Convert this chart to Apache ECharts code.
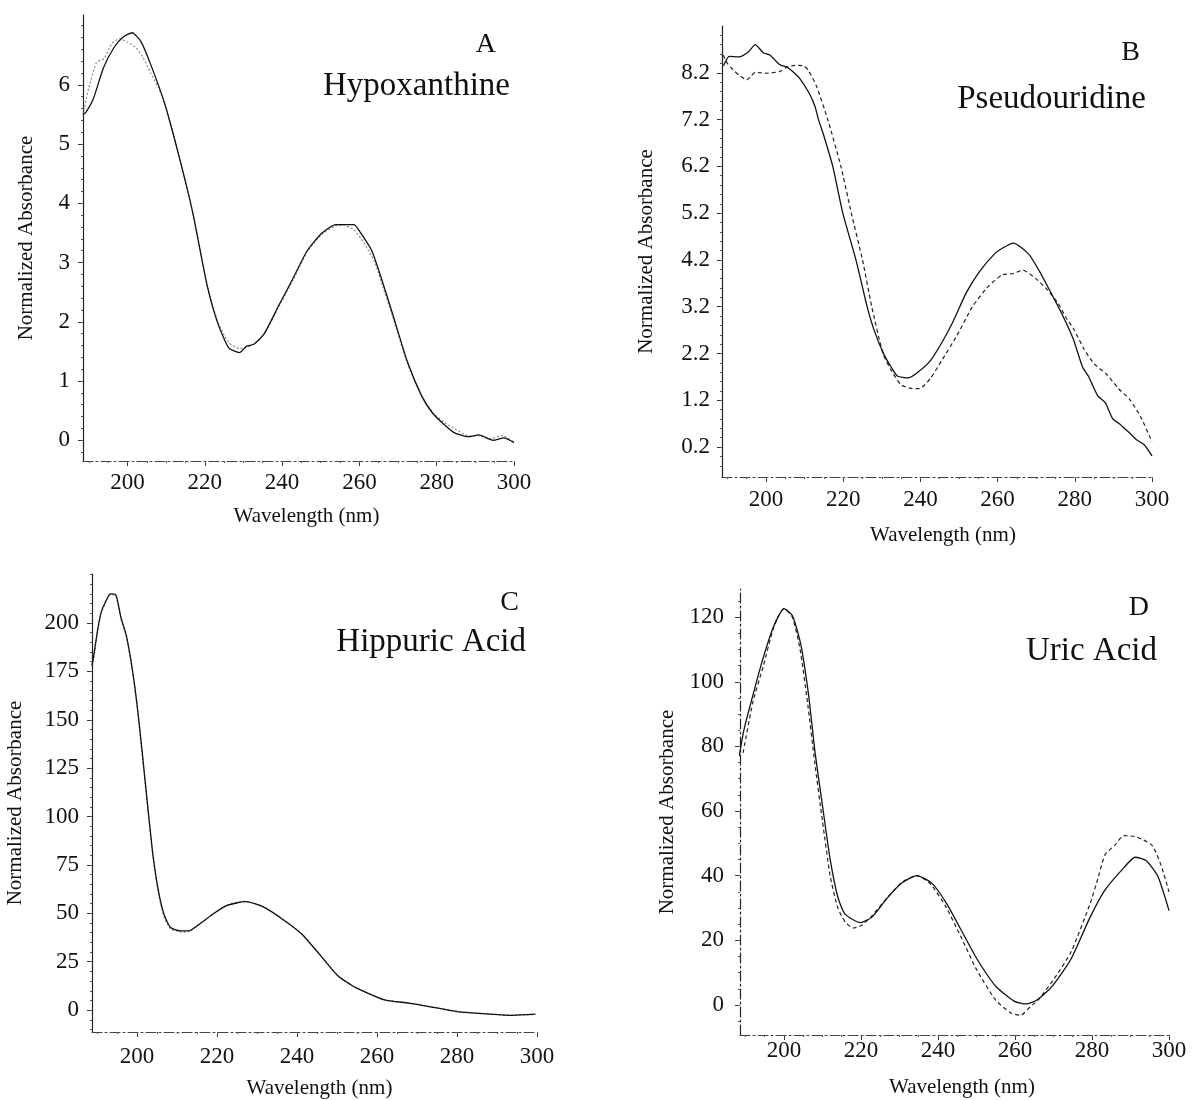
<!DOCTYPE html>
<html>
<head>
<meta charset="utf-8">
<script src="https://cdn.jsdelivr.net/npm/echarts@6/dist/echarts.min.js"></script>
<style>
  html, body { margin: 0; padding: 0; background: #fff; }
  #chart { width: 1193px; height: 1100px; }
</style>
</head>
<body>
<div id="chart"></div>
<script>
// A - Hypoxanthine
const hypoWlSolid = [188.5, 189.2, 191.2, 193.8, 196.6, 198.9, 201.2, 203.5, 205.8, 209.5, 213.2, 216.9, 220.6, 223.4, 226.2, 229.0, 230.8, 232.7, 235.4, 239.1, 242.8, 246.5, 250.2, 253.9, 258.6, 259.5, 263.2, 266.0, 268.8, 272.4, 276.1, 278.9, 281.7, 284.5, 288.2, 290.9, 294.6, 297.4, 300];
const hypoAbsSolid = [5.5, 5.53, 5.77, 6.29, 6.64, 6.81, 6.88, 6.73, 6.38, 5.71, 4.83, 3.84, 2.62, 1.97, 1.56, 1.48, 1.59, 1.62, 1.80, 2.27, 2.73, 3.20, 3.49, 3.64, 3.64, 3.58, 3.20, 2.67, 2.09, 1.33, 0.75, 0.46, 0.28, 0.13, 0.06, 0.09, 0.0, 0.04, -0.04];
const hypoWlDash = [188.5, 190, 192, 194, 196, 198, 200, 202, 204, 206, 208, 209.5, 213.2, 216.9, 220.6, 223.4, 226.2, 229, 231, 233, 235.4, 239.1, 242.8, 246.5, 250.2, 253.9, 256, 258.6, 261, 264, 266, 268.8, 272.4, 276.1, 279, 282, 285, 288, 291, 294, 297, 300];
const hypoAbsDash = [5.5, 5.95, 6.38, 6.45, 6.7, 6.78, 6.72, 6.64, 6.47, 6.2, 5.95, 5.72, 4.83, 3.84, 2.62, 2.0, 1.65, 1.55, 1.57, 1.64, 1.8, 2.25, 2.7, 3.18, 3.47, 3.62, 3.63, 3.55, 3.35, 3.0, 2.6, 2.05, 1.3, 0.75, 0.47, 0.3, 0.18, 0.08, 0.07, 0.03, 0.08, -0.03];

// B - Pseudouridine
const pseuWlSolid = [189.0, 190.5, 193.0, 195.5, 197.2, 199.3, 201.0, 203.6, 205.4, 207.0, 209.0, 211.4, 212.7, 213.6, 215.0, 217.3, 219.9, 223.3, 226.2, 228.0, 230.6, 232.5, 234.0, 236.9, 239.8, 242.7, 245.6, 248.5, 251.9, 255.3, 259.2, 261.2, 264.1, 268.0, 270.9, 273.8, 276.7, 279.6, 282.0, 283.5, 285.9, 287.9, 289.8, 291.7, 294.2, 296.1, 298.1, 300];
const pseuAbsSolid = [8.35, 8.55, 8.54, 8.65, 8.8, 8.63, 8.58, 8.37, 8.32, 8.22, 8.05, 7.73, 7.48, 7.2, 6.85, 6.2, 5.2, 4.2, 3.2, 2.7, 2.17, 1.9, 1.72, 1.68, 1.83, 2.06, 2.44, 2.89, 3.5, 3.95, 4.33, 4.45, 4.56, 4.33, 3.95, 3.5, 3.04, 2.51, 1.91, 1.72, 1.3, 1.15, 0.81, 0.69, 0.5, 0.35, 0.24, 0.01];
const pseuWlDash = [188.9, 190.0, 191.5, 193.0, 195.0, 196.0, 197.2, 200.2, 203.6, 205.4, 207.5, 209.7, 210.9, 213.1, 216.0, 219.4, 222.1, 225.0, 227.4, 230.3, 232.5, 235.0, 237.9, 239.8, 242.7, 245.6, 249.5, 253.4, 257.3, 261.2, 264.1, 266.5, 269.9, 272.8, 275.7, 277.7, 279.6, 282.5, 285.0, 288.3, 291.3, 294.2, 297.1, 300];
const pseuAbsDash = [8.58, 8.4, 8.26, 8.15, 8.05, 8.12, 8.21, 8.19, 8.23, 8.32, 8.36, 8.35, 8.26, 7.91, 7.2, 6.2, 5.2, 4.2, 3.2, 2.2, 1.83, 1.53, 1.45, 1.45, 1.68, 2.06, 2.59, 3.19, 3.61, 3.88, 3.91, 3.98, 3.8, 3.57, 3.27, 2.97, 2.74, 2.28, 1.98, 1.75, 1.45, 1.22, 0.84, 0.31];

// C - Hippuric Acid
const hippWl = [188.75, 189.1, 190.2, 191.1, 192.4, 193.3, 194.7, 196.0, 197.3, 198.7, 200.0, 201.3, 202.7, 204.0, 205.3, 206.7, 208.4, 211.1, 212.9, 215.6, 219.1, 222.7, 227.1, 231.6, 236.9, 241.3, 245.8, 250.2, 254.7, 261.8, 268.0, 274.2, 280.4, 286.7, 293.8, 299.6];
const hippAbsSolid = [178, 182, 197, 206, 212, 215, 214.6, 202.7, 193.8, 177.8, 158.2, 133.3, 104.9, 80, 62.2, 49.8, 42.7, 40.9, 40.9, 44.4, 49.8, 54.2, 56, 53.3, 46.2, 39.1, 28.4, 17.8, 11.6, 5.3, 3.6, 1.4, -0.9, -1.8, -2.7, -2.1];
const hippAbsDash = [178, 181, 196, 205, 212, 214.5, 214, 202, 193, 177, 157, 132, 104, 79, 61, 48.5, 42, 40.3, 40.5, 44.4, 49.8, 54.5, 56.3, 53.5, 46.4, 39.1, 28.6, 18, 11.6, 5.5, 3.6, 1.5, -0.8, -1.8, -2.6, -2.3];

// D - Uric Acid
const uricWlSolid = [188.4, 189.5, 190.7, 194.2, 197.4, 200.0, 202.2, 204.4, 206.4, 208.1, 210.1, 212.0, 214.0, 215.9, 219.8, 222.8, 226.7, 230.6, 234.5, 238.4, 242.3, 246.2, 250.1, 255.0, 259.9, 262.9, 265.8, 269.7, 274.6, 279.5, 283.4, 288.3, 291.2, 294.1, 297.1, 300];
const uricAbsSolid = [77, 84.4, 90.2, 105.7, 117.3, 122.6, 120.5, 111.5, 96, 78, 61, 45.1, 33.4, 28.1, 25.5, 27.1, 32.9, 37.7, 40, 37.7, 31.3, 22.8, 14.3, 5.8, 1.1, 0.3, 1.6, 5.8, 14.3, 27.1, 35.6, 42.5, 45.7, 44.6, 39.8, 29.2];
const uricWlDash = [189.4, 192, 194.6, 197.4, 200, 202.2, 204.2, 206.2, 208, 210, 212, 214, 216, 218, 220, 222.8, 226.7, 230.6, 234.5, 238, 242, 246, 250, 255, 259, 261.5, 264, 266, 270.7, 274.6, 279.5, 281.5, 283.4, 286, 288.3, 291.5, 295.6, 298, 300];
const uricAbsDash = [78, 94, 104.6, 117, 122.6, 120, 110, 93, 75, 57, 40, 30, 25.5, 23.8, 24.5, 27.5, 33, 37.9, 40, 37.5, 30.5, 21, 11, 1.5, -2.5, -3.2, -0.5, 1.5, 9, 16.5, 31.3, 39, 46.5, 49.5, 52.4, 52, 49.4, 43, 35];

// tick labels
const wlTicks = [200, 220, 240, 260, 280, 300];
const hypoTicks = [0, 1, 2, 3, 4, 5, 6];
const pseuTicks = [0.2, 1.2, 2.2, 3.2, 4.2, 5.2, 6.2, 7.2, 8.2];
const hippTicks = [0, 25, 50, 75, 100, 125, 150, 175, 200];
const uricTicks = [0, 20, 40, 60, 80, 100, 120];

const panelNames = ['Hypoxanthine', 'Pseudouridine', 'Hippuric Acid', 'Uric Acid'];
const panelLetters = ['A', 'B', 'C', 'D'];

const FONT = 'Liberation Serif';
const INK = '#111';

function pairs(xs, ys) {
  return xs.map(function (x, i) { return [x, ys[i]]; });
}

function steps(from, to, step) {
  const out = [];
  for (let v = from; v <= to + 1e-9; v += step) out.push(+v.toFixed(3));
  return out;
}

// panel layout in px: grid box, axis ranges, label spacing
const panels = [
  { left: 83, top: 15, width: 431, height: 446, xmin: 188.5, ymin: -0.35, ymax: 7.18,
    yTicks: hypoTicks, yMinor: steps(-0.2, 7.0, 0.2), dec: 0,
    xMargin: 10, xGap: 45, xShift: 16, yMargin: 13, yGap: 46, yDash: 'solid' },
  { left: 722, top: 26, width: 430, height: 451, xmin: 188.6, ymin: -0.44, ymax: 9.2,
    yTicks: pseuTicks, yMinor: steps(-0.2, 9.0, 0.2), dec: 1,
    xMargin: 11, xGap: 48, xShift: 12, yMargin: 12, yGap: 65, yDash: 'solid' },
  { left: 92, top: 574, width: 445, height: 459, xmin: 188.75, ymin: -11.3, ymax: 225.3,
    yTicks: hippTicks, yMinor: steps(-10, 225, 5), dec: 0,
    xMargin: 13, xGap: 46, xShift: 10, yMargin: 13, yGap: 66, yDash: 'solid' },
  { left: 740, top: 589, width: 429, height: 446, xmin: 188.6, ymin: -9.3, ymax: 128.7,
    yTicks: uricTicks, yMinor: steps(-5, 125, 5), dec: 0,
    xMargin: 4, xGap: 42, xShift: 15, yMargin: 16, yGap: 62, yDash: [10, 3, 2, 3] }
];

const xMinor = steps(190, 300, 5);

const grids = [], xAxes = [], yAxes = [];
panels.forEach(function (p, i) {
  grids.push({ left: p.left, top: p.top, width: p.width, height: p.height, containLabel: false });
  // main x axis
  xAxes.push({
    gridIndex: i, type: 'value', position: 'bottom', min: p.xmin, max: 300,
    name: 'Wavelength (nm)', nameLocation: 'middle', nameGap: p.xGap,
    nameTextStyle: { fontFamily: FONT, fontSize: 21, color: INK, padding: [0, 0, 0, p.xShift] },
    axisLine: { show: true, onZero: false, lineStyle: { color: '#444', width: 1.2, type: [10, 3, 2, 3] } },
    axisTick: { show: true, inside: false, length: 5, customValues: wlTicks, lineStyle: { color: '#333' } },
    axisLabel: { customValues: wlTicks, margin: p.xMargin, fontFamily: FONT, fontSize: 23, color: INK },
    splitLine: { show: false }
  });
  // minor ticks on x
  xAxes.push({
    gridIndex: i, type: 'value', position: 'bottom', min: p.xmin, max: 300,
    axisLine: { show: false, onZero: false },
    axisTick: { show: true, length: 2, customValues: xMinor, lineStyle: { color: '#555' } },
    axisLabel: { show: false },
    splitLine: { show: false }
  });
  // main y axis
  yAxes.push({
    gridIndex: i, type: 'value', position: 'left', min: p.ymin, max: p.ymax,
    name: 'Normalized Absorbance', nameLocation: 'middle', nameGap: p.yGap,
    nameTextStyle: { fontFamily: FONT, fontSize: 21, color: INK },
    axisLine: { show: true, onZero: false, lineStyle: { color: '#222', width: 1.2, type: p.yDash } },
    axisTick: { show: true, length: 5, customValues: p.yTicks, lineStyle: { color: '#333' } },
    axisLabel: {
      customValues: p.yTicks, margin: p.yMargin, fontFamily: FONT, fontSize: 23, color: INK,
      formatter: function (v) { return v.toFixed(p.dec); }
    },
    splitLine: { show: false }
  });
  // minor ticks on y
  yAxes.push({
    gridIndex: i, type: 'value', position: 'left', min: p.ymin, max: p.ymax,
    axisLine: { show: false, onZero: false },
    axisTick: { show: true, length: 2, customValues: p.yMinor, lineStyle: { color: '#555' } },
    axisLabel: { show: false },
    splitLine: { show: false }
  });
});

function line(i, data, solid, dashColor, dashType) {
  return {
    type: 'line', xAxisIndex: i * 2, yAxisIndex: i * 2, data: data,
    showSymbol: false, smooth: 0.2, silent: true,
    lineStyle: solid
      ? { color: INK, width: 1.3, type: 'solid' }
      : { color: dashColor, width: 1.2, type: dashType }
  };
}

const series = [
  line(0, pairs(hypoWlDash, hypoAbsDash), false, '#8a8a8a', [2, 2]),
  line(0, pairs(hypoWlSolid, hypoAbsSolid), true),
  line(1, pairs(pseuWlDash, pseuAbsDash), false, '#222', [4, 3]),
  line(1, pairs(pseuWlSolid, pseuAbsSolid), true),
  line(2, pairs(hippWl, hippAbsDash), false, '#888', [2, 2]),
  line(2, pairs(hippWl, hippAbsSolid), true),
  line(3, pairs(uricWlDash, uricAbsDash), false, '#222', [4, 3]),
  line(3, pairs(uricWlSolid, uricAbsSolid), true)
];

// panel letters and compound names, right aligned in each corner
const labelPos = [
  { x: 496, yl: 45, yn: 86 },
  { x: 1140, xn: 1146, yl: 53, yn: 99 },
  { x: 519, xn: 526, yl: 603, yn: 642 },
  { x: 1149, xn: 1157, yl: 608, yn: 651 }
];
const graphics = [];
labelPos.forEach(function (l, i) {
  graphics.push({
    type: 'text', x: l.x, y: l.yl,
    style: { text: panelLetters[i], font: '28px "' + FONT + '"', fill: INK, textAlign: 'right', textVerticalAlign: 'middle' }
  });
  graphics.push({
    type: 'text', x: l.xn || 510, y: l.yn,
    style: { text: panelNames[i], font: '33px "' + FONT + '"', fill: INK, textAlign: 'right', textVerticalAlign: 'middle' }
  });
});

const chart = echarts.init(document.getElementById('chart'), null, { renderer: 'canvas' });
chart.setOption({
  animation: false,
  backgroundColor: '#fff',
  grid: grids,
  xAxis: xAxes,
  yAxis: yAxes,
  series: series,
  graphic: graphics
});
</script>
</body>
</html>
